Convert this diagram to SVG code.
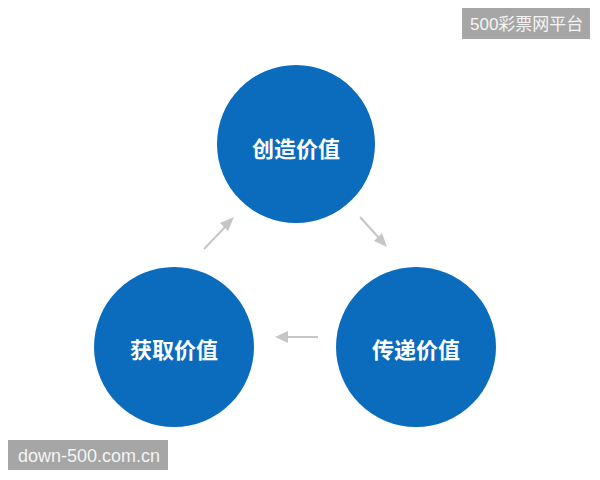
<svg xmlns="http://www.w3.org/2000/svg" width="600" height="480" viewBox="0 0 600 480">
<defs>
<style>
.node circle{fill:#0b6bbd}
.node text{fill:#ffffff;font-family:"Noto Sans CJK SC","Noto Sans",sans-serif;font-size:22px;font-weight:bold;text-anchor:middle;dominant-baseline:central}
.conn line{stroke:#c6c6c6;stroke-width:2;fill:none}
.conn path{fill:#c6c6c6}
.wm rect{fill:#a6a6a6}
.wm text{fill:#f4f4f4;font-family:"Liberation Sans","Noto Sans CJK SC",sans-serif;dominant-baseline:central}
</style>
</defs>
<rect width="600" height="480" fill="#ffffff"/>
<g id="create" class="node"><circle cx="296" cy="144" r="79"/><text x="296" y="147">创造价值</text></g>
<g id="deliver" class="node"><circle cx="416" cy="347" r="80"/><text x="416" y="348">传递价值</text></g>
<g id="capture" class="node"><circle cx="174" cy="347" r="80"/><text x="174" y="348">获取价值</text></g>
<g id="connectors" class="conn">
<line x1="204" y1="249" x2="226" y2="226"/>
<path d="M234,217 L220,223 L228,231 Z"/>
<line x1="360" y1="217" x2="379" y2="238"/>
<path d="M387,247 L374,241 L382,233 Z"/>
<line x1="318" y1="337" x2="286" y2="337"/>
<path d="M275,337 L288,331 L288,343 Z"/>
</g>
<g class="wm">
<rect x="462" y="8" width="128" height="31"/>
<text x="470" y="24" font-size="17">500彩票网平台</text>
<rect x="8" y="440" width="160" height="30"/>
<text x="18" y="456" font-size="18">down-500.com.cn</text>
</g>
</svg>
